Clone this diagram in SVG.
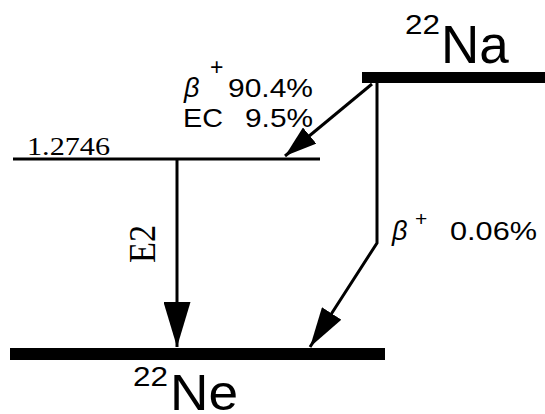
<svg xmlns="http://www.w3.org/2000/svg" width="545" height="414" viewBox="0 0 545 414">
<style>
.sans{font-family:"Liberation Sans",Arial,sans-serif;fill:#000}
.serif{font-family:"Liberation Serif","Times New Roman",serif;fill:#000}
.beta{font-style:italic}
.line{stroke:#000;stroke-width:3;fill:none}
.bar{fill:#000}
</style>
<defs>
<marker id="arrowL" viewBox="0 0 45 27" refX="45" refY="13.5" markerWidth="45" markerHeight="27" markerUnits="userSpaceOnUse" orient="auto">
<path d="M0,0 L45,13.5 L0,27 Z" fill="#000"/>
</marker>
<marker id="arrowM" viewBox="0 0 40 23" refX="40" refY="11.5" markerWidth="40" markerHeight="23" markerUnits="userSpaceOnUse" orient="auto">
<path d="M0,0 L40,11.5 L0,23 Z" fill="#000"/>
</marker>
<marker id="arrowS" viewBox="0 0 32 21" refX="32" refY="10.5" markerWidth="32" markerHeight="21" markerUnits="userSpaceOnUse" orient="auto">
<path d="M0,0 L32,10.5 L0,21 Z" fill="#000"/>
</marker>
</defs>
<rect width="545" height="414" fill="#fff"/>
<g id="na22">
<rect class="bar" x="362" y="72" width="183" height="11"/>
<text class="sans" x="405" y="34" font-size="27" textLength="35" lengthAdjust="spacingAndGlyphs">22</text>
<text class="sans" x="441" y="63" font-size="53">Na</text>
</g>
<g id="level-1.2746">
<line class="line" x1="13" y1="159" x2="320" y2="159"/>
<text class="serif" x="27" y="155" font-size="25" textLength="83" lengthAdjust="spacingAndGlyphs">1.2746</text>
</g>
<g id="ne22">
<rect class="bar" x="10" y="348" width="375" height="12"/>
<text class="sans" x="133" y="386" font-size="27" textLength="35" lengthAdjust="spacingAndGlyphs">22</text>
<text class="sans" x="170" y="410" font-size="50" textLength="68" lengthAdjust="spacingAndGlyphs">Ne</text>
</g>
<g id="connectors">
<path class="line" d="M372,84 L285,156" marker-end="url(#arrowS)"/>
<path class="line" d="M177,159 L177,347" marker-end="url(#arrowL)"/>
<path class="line" d="M377,83 L377,243 L310,347" marker-end="url(#arrowM)"/>
</g>
<g id="labels">
<text class="sans beta" x="184" y="97" font-size="27">β</text>
<text class="sans" x="210" y="75" font-size="23">+</text>
<text class="sans" x="228" y="97" font-size="26" textLength="85" lengthAdjust="spacingAndGlyphs">90.4%</text>
<text class="sans" x="183" y="127" font-size="26" textLength="40" lengthAdjust="spacingAndGlyphs">EC</text>
<text class="sans" x="245" y="127" font-size="26" textLength="68" lengthAdjust="spacingAndGlyphs">9.5%</text>
<text class="serif" transform="translate(155,263) rotate(-90)" font-size="38" textLength="38" lengthAdjust="spacingAndGlyphs">E2</text>
<text class="sans beta" x="392" y="240" font-size="27">β</text>
<text class="sans" x="415" y="226" font-size="21">+</text>
<text class="sans" x="450" y="240" font-size="26" textLength="87" lengthAdjust="spacingAndGlyphs">0.06%</text>
</g>
</svg>
